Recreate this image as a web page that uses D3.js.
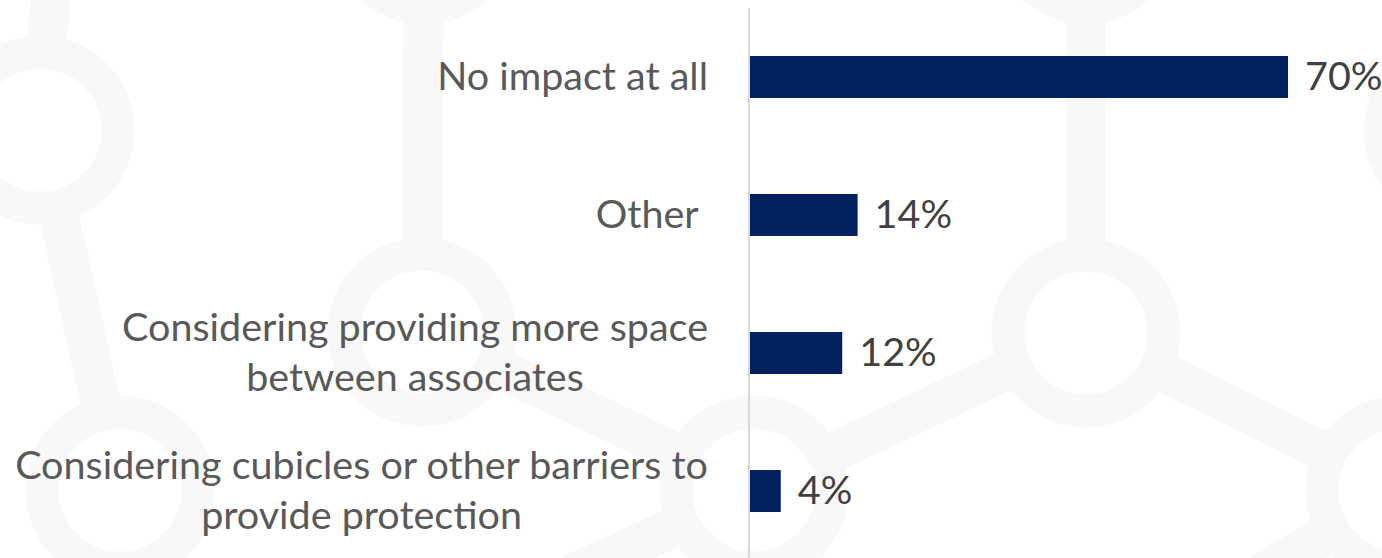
<!DOCTYPE html>
<html>
<head>
<meta charset="utf-8">
<script src="https://cdn.jsdelivr.net/npm/d3@7/dist/d3.min.js"></script>
<style>
  html, body { margin: 0; padding: 0; background: #ffffff; }
  svg { display: block; }
  text { white-space: pre; }
</style>
</head>
<body>
<svg id="chart" width="1382" height="558"></svg>
<script>
// Survey responses: planned workspace changes
const categories = [
  "No impact at all",
  "Other ",
  "Considering providing more space\nbetween associates",
  "Considering cubicles or other barriers to\nprovide protection"
];
const values = [70, 14, 12, 4];
const valueLabels = ["70%", "14%", "12%", "4%"];

// Decorative molecule watermark behind the chart
const nodes = [
  { id: "a", x: 40, y: 130 },
  { id: "b", x: 424, y: -70 },
  { id: "c", x: 422, y: 332 },
  { id: "d", x: 120, y: 490 },
  { id: "e", x: 754, y: 490 },
  { id: "f", x: 1086, y: -70 },
  { id: "g", x: 1086, y: 333 },
  { id: "h", x: 1400, y: 490 },
  { id: "i", x: 1458, y: 130 },
  { id: "j", x: 58, y: -100 },
  { id: "k", x: 454, y: 629 },
  { id: "l", x: 1100, y: 670 }
];
const bonds = [["a","j"],["a","d"],["b","c"],["c","e"],["e","g"],["g","f"],["g","h"],["e","k"],["h","l"]];
const rings = ["a","b","c","d","e","f","g","h","i"];

const width = 1382, height = 558;
const fontFamily = "Lato, 'Open Sans', sans-serif";
const fontSize = 39.5;
const svg = d3.select("#chart");

const byId = new Map(nodes.map(n => [n.id, n]));
const bg = svg.append("g").attr("class", "watermark");
bg.selectAll("line").data(bonds).join("line")
  .attr("x1", d => byId.get(d[0]).x).attr("y1", d => byId.get(d[0]).y)
  .attr("x2", d => byId.get(d[1]).x).attr("y2", d => byId.get(d[1]).y)
  .attr("stroke", "#f8f8f8").attr("stroke-width", 40);
bg.selectAll("circle").data(rings.map(r => byId.get(r))).join("circle")
  .attr("cx", d => d.x).attr("cy", d => d.y).attr("r", 78)
  .attr("fill", "#ffffff").attr("stroke", "#f8f8f8").attr("stroke-width", 33);

// Scales
const x0 = 750;
const x = d3.scaleLinear().domain([0, 70]).range([x0, 1288]);
const y = d3.scaleBand().domain(categories).range([8, 560])
  .paddingInner(0.696).paddingOuter(0.348);

// Vertical category axis line
svg.append("line")
  .attr("x1", x0 - 1).attr("x2", x0 - 1)
  .attr("y1", 8).attr("y2", height)
  .attr("stroke", "#d9d9d9").attr("stroke-width", 2);

// Bars
svg.append("g").selectAll("rect").data(values).join("rect")
  .attr("x", x(0))
  .attr("y", (d, i) => y(categories[i]))
  .attr("width", d => x(d) - x(0))
  .attr("height", y.bandwidth())
  .attr("fill", "#002060");

// Value labels
svg.append("g").selectAll("text").data(values).join("text")
  .attr("x", d => x(d) + 17)
  .attr("y", (d, i) => y(categories[i]) + y.bandwidth() / 2 + 13)
  .attr("font-family", fontFamily).attr("font-size", fontSize)
  .attr("fill", "#404040")
  .text((d, i) => valueLabels[i]);

// Category labels: right-aligned block, lines centred within the block
const labelRight = 708, lineGap = 50;
const labels = svg.append("g");
categories.forEach(cat => {
  const lines = cat.split("\n");
  const cy = y(cat) + y.bandwidth() / 2;
  const g = labels.append("g");
  const texts = lines.map((ln, i) => g.append("text")
    .attr("y", cy + 13 + (i - (lines.length - 1) / 2) * lineGap)
    .attr("font-family", fontFamily).attr("font-size", fontSize)
    .attr("fill", "#595959")
    .text(ln));
  if (lines.length === 1) {
    texts[0].attr("x", labelRight).attr("text-anchor", "end");
  } else {
    const w = d3.max(texts, t => t.node().getComputedTextLength());
    texts.forEach(t => t.attr("x", labelRight - w / 2).attr("text-anchor", "middle"));
  }
});
</script>
</body>
</html>
